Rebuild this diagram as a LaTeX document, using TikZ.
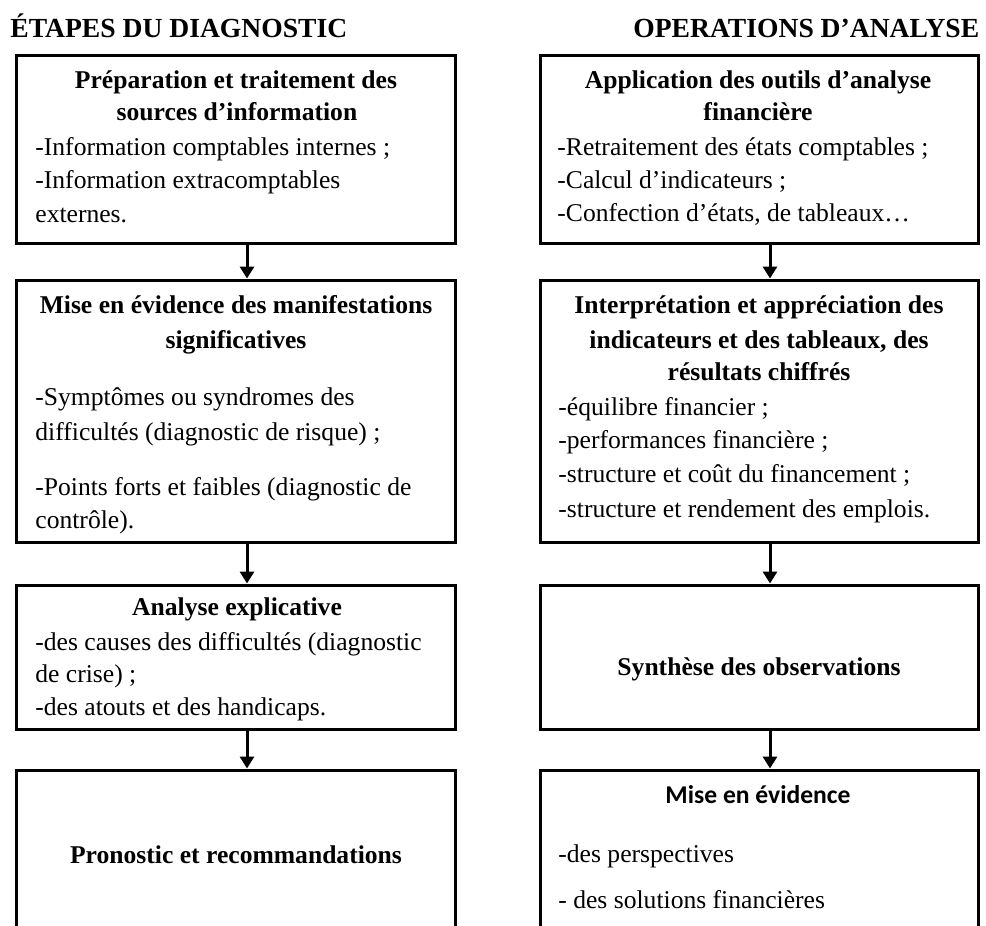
\documentclass[tikz,border=0pt]{standalone}
\usepackage{fontspec}
\setmainfont{Liberation Serif}
\newfontfamily\calibrifont{Carlito}
\usetikzlibrary{arrows.meta,fit}

\tikzset{
  box/.style={draw=black, line width=1.5pt, inner sep=0pt, rectangle},
  arr/.style={draw=black, line width=1.5pt, -{Triangle[width=7pt,length=6pt]}},
  head/.style={inner sep=0pt, anchor=base west, font=\fontsize{13.8}{16}\selectfont\bfseries},
  ttl/.style={inner sep=0pt, anchor=base, font=\fontsize{12.8}{15}\selectfont\bfseries},
  item/.style={inner sep=0pt, anchor=base west, font=\fontsize{12.8}{15}\selectfont},
}

\begin{document}
\begin{tikzpicture}[x=0.5pt, y=-0.5pt]
\useasboundingbox (0,0) rectangle (986,926);
\clip (0,0) rectangle (986,926);

% column headings
\node[head] (hl) at (10,38) {ÉTAPES DU DIAGNOSTIC};
\node[head] (hr) at (633,38) {OPERATIONS D’ANALYSE};

% boxes, left column
\node[box, fit={(16,55) (455,243)}]  (l1) {};
\node[box, fit={(16,280) (455,542)}] (l2) {};
\node[box, fit={(16,585) (455,729)}] (l3) {};
\node[box, fit={(16,770) (455,960)}] (l4) {};

% boxes, right column
\node[box, fit={(540,55) (978,243)}]  (r1) {};
\node[box, fit={(540,280) (978,542)}] (r2) {};
\node[box, fit={(540,585) (978,729)}] (r3) {};
\node[box, fit={(540,770) (978,960)}] (r4) {};

% arrow axes
\coordinate (lx) at (247,0);
\coordinate (rx) at (770,0);

\draw[arr] (l1.south -| lx) -- (l2.north -| lx);
\draw[arr] (l2.south -| lx) -- (l3.north -| lx);
\draw[arr] (l3.south -| lx) -- (l4.north -| lx);
\draw[arr] (r1.south -| rx) -- (r2.north -| rx);
\draw[arr] (r2.south -| rx) -- (r3.north -| rx);
\draw[arr] (r3.south -| rx) -- (r4.north -| rx);

% texts, left column
\node[ttl]  (l1t1) at (236,88)  {Préparation et traitement des};
\node[ttl]  (l1t2) at (237,120) {sources d’information};
\node[item] (l1a)  at (35,155)  {-Information comptables internes ;};
\node[item] (l1b)  at (35,188)  {-Information extracomptables};
\node[item] (l1c)  at (35,222)  {externes.};

\node[ttl]  (l2t1) at (236,313) {Mise en évidence des manifestations};
\node[ttl]  (l2t2) at (236,348) {significatives};
\node[item] (l2a)  at (35,405)  {-Symptômes ou syndromes des};
\node[item] (l2b)  at (35,440)  {difficultés (diagnostic de risque) ;};
\node[item] (l2c)  at (35,495)  {-Points forts et faibles (diagnostic de};
\node[item] (l2d)  at (35,528)  {contrôle).};

\node[ttl]  (l3t1) at (237,615) {Analyse explicative};
\node[item] (l3a)  at (35,650)  {-des causes des difficultés (diagnostic};
\node[item] (l3b)  at (35,682)  {de crise) ;};
\node[item] (l3c)  at (35,715)  {-des atouts et des handicaps.};

\node[ttl]  (l4t1) at (236,863) {Pronostic et recommandations};

% texts, right column
\node[ttl]  (r1t1) at (758,88)  {Application des outils d’analyse};
\node[ttl]  (r1t2) at (758,120) {financière};
\node[item] (r1a)  at (557,155) {-Retraitement des états comptables ;};
\node[item] (r1b)  at (557,188) {-Calcul d’indicateurs ;};
\node[item] (r1c)  at (557,221) {-Confection d’états, de tableaux…};

\node[ttl]  (r2t1) at (759,313) {Interprétation et appréciation des};
\node[ttl]  (r2t2) at (759,348) {indicateurs et des tableaux, des};
\node[ttl]  (r2t3) at (759,380) {résultats chiffrés};
\node[item] (r2a)  at (558,415) {-équilibre financier ;};
\node[item] (r2b)  at (558,448) {-performances financière ;};
\node[item] (r2c)  at (558,482) {-structure et coût du financement ;};
\node[item] (r2d)  at (558,517) {-structure et rendement des emplois.};

\node[ttl]  (r3t1) at (759,675) {Synthèse des observations};

\node[ttl, font=\fontsize{12.8}{15}\selectfont\calibrifont\bfseries] (r4t1) at (758,803) {Mise en évidence};
\node[item] (r4a)  at (558,862) {-des perspectives};
\node[item] (r4b)  at (558,908) {- des solutions financières};
\end{tikzpicture}
\end{document}
